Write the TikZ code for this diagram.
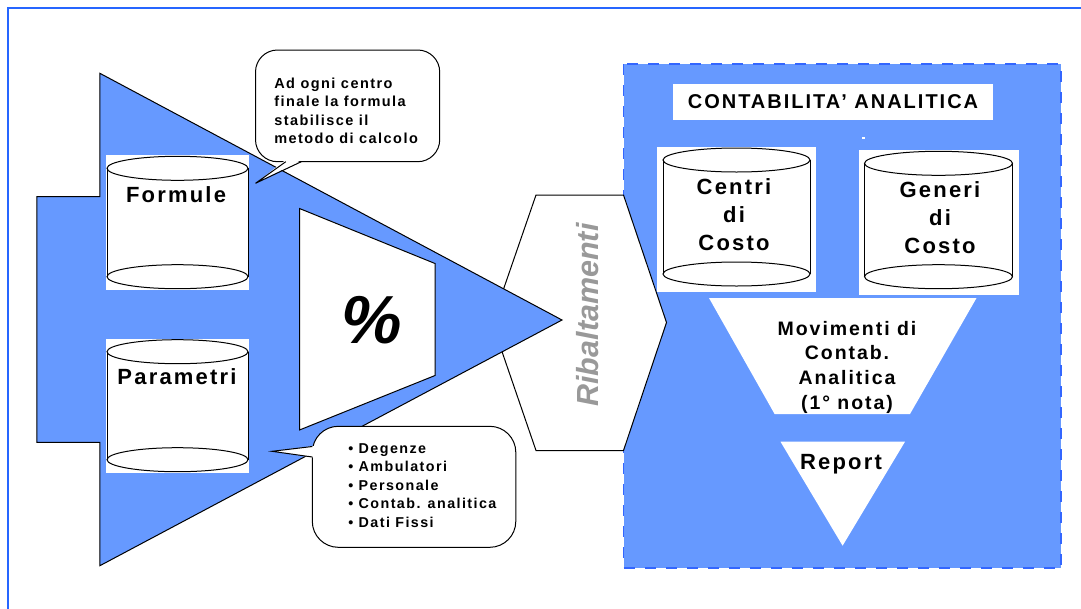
\documentclass[tikz,border=0pt]{standalone}
\usepackage{fontspec}
\setmainfont{Liberation Sans}[LetterSpace=10]
\newfontfamily\piatto{Liberation Sans}
\usepackage{tikz}

\definecolor{azzurro}{RGB}{102,153,255}
\definecolor{bordoblu}{RGB}{51,102,255}
\definecolor{cornice}{RGB}{38,102,255}
\definecolor{grigiotesto}{RGB}{153,153,153}

\tikzset{
	etich/.style={font=\bfseries\fontsize{22}{28}\selectfont, align=center, inner sep=0pt, anchor=north},
	nota/.style={font=\bfseries\fontsize{14.5}{18.4}\selectfont, align=left, inner sep=0pt, anchor=north west},
	fumetto/.style={draw, fill=white}
}

\begin{document}
\begin{tikzpicture}[x=1pt,y=-1pt,line width=1pt]
\useasboundingbox (0,0) rectangle (1081,608);
% cornice
\draw[cornice, line width=2pt] (7.5,620) -- (7.5,7.5) -- (1090,7.5);
% riquadro contabilita
\draw[fill=azzurro, draw=bordoblu, line width=1.5pt, dash pattern=on 11pt off 10pt] (623.5,64) rectangle (1061,568);
% esagono
\draw[fill=white] (536,195) -- (623.5,195) -- (666.5,322.5) -- (623.5,450.5) -- (536,450.5) -- (492,322.5) -- cycle;
\node[rotate=90, text=grigiotesto, font=\piatto\bfseries\itshape\fontsize{30.5}{30}\selectfont] (ribalt) at (588,315) {Ribaltamenti};
% freccia
\draw[fill=azzurro] (99.9,73.3) -- (562,320) -- (99.9,565.7) -- (99.9,442.3) -- (36.8,442.3) -- (36.8,196.7) -- (99.9,196.7) -- cycle;
\draw[fill=white] (299.5,208.5) -- (435,263.5) -- (435,375.5) -- (299.5,430) -- cycle;
\node[font=\piatto\bfseries\itshape\fontsize{68}{68}\selectfont] (perc) at (371.5,320) {\%};
% archivi
\foreach \cx/\rx/\ya/\yb/\m in {177.5/70.5/168.3/276.7/0, 177.5/70.5/351.7/459.7/0, 736.5/73.5/160/274/5, 938.5/74/163.3/276.7/5}
{
	\fill[white] (\cx-\rx-\m-1,\ya-13) rectangle (\cx+\rx+\m+1,\yb+13+\m);
	\draw[fill=white] (\cx,\yb) ellipse [x radius=\rx, y radius=12];
	\draw (\cx-\rx,\ya) -- (\cx-\rx,\yb) (\cx+\rx,\ya) -- (\cx+\rx,\yb);
	\draw (\cx,\ya) ellipse [x radius=\rx, y radius=12];
}
\node[etich] (formule) at (176,186) {Formule};
\node[etich] (parametri) at (177,368) {Parametri};
\node[etich] (centri) at (734,178) {Centri\\di\\Costo};
\node[etich] (generi) at (940,181) {Generi\\di\\Costo};
% fumetti
\draw[fumetto, rounded corners=22pt] (255.5,50) rectangle (439.7,161.7);
\fill[white] (285.5,160) -- (255.5,183.3) -- (301.5,160) -- cycle;
\draw (285.8,161.7) -- (255.5,183.3) -- (301.3,161.7);
\node[nota] (nota1) at (273.8,77.5) {Ad ogni centro\\finale la formula\\stabilisce il\\metodo di calcolo};
\draw[fumetto, rounded corners=26pt] (312.3,426.3) rectangle (515.8,547.3);
\fill[white] (313.8,446) -- (272,451.3) -- (313.8,457.5) -- cycle;
\draw (312.3,446.5) -- (272,451.3) -- (312.3,457);
\node[nota, font=\bfseries\fontsize{14.3}{18.5}\selectfont] (nota2) at (347.8,442.7) {• Degenze\\• Ambulatori\\• Personale\\• Contab. analitica\\• Dati Fissi};
% contabilita analitica
\node[fill=white, minimum width=320pt, minimum height=36pt, inner sep=0pt, font=\bfseries\fontsize{20}{24}\selectfont] (titolo) at (833,102) {CONTABILITA’ ANALITICA};
\fill[white] (862,136.5) rectangle (865,138.5);
\fill[white] (709,298) -- (976.5,298) -- (910,414) -- (774.6,414) -- cycle;
\node[etich, font=\bfseries\fontsize{19.5}{24.7}\selectfont] (movim) at (847,320.6) {Movimenti di\\Contab.\\Analitica\\(1° nota)};
\fill[white] (780.5,441.7) -- (905,441.7) -- (842.6,545.7) -- cycle;
\node[etich] (report) at (841,453.5) {Report};
\end{tikzpicture}
\end{document}
